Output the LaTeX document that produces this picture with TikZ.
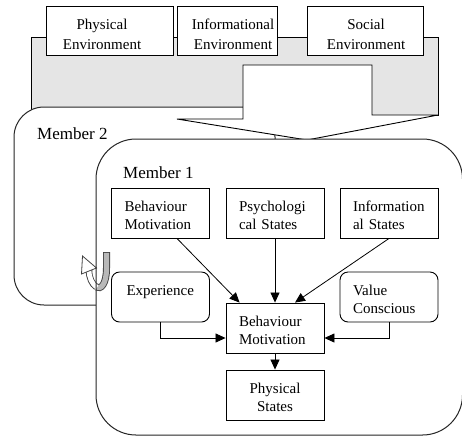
\documentclass[tikz,border=0pt]{standalone}
\usepackage{fontspec}
\setmainfont{Liberation Serif}
\usetikzlibrary{arrows.meta,calc}

\newcommand{\boxfont}{\fontsize{15}{18}\selectfont}
\newcommand{\envfont}{\fontsize{15}{20}\selectfont}
\newcommand{\memfont}{\fontsize{17}{20}\selectfont}

\begin{document}
\begin{tikzpicture}[x=1pt,y=-1pt,
  envbox/.style={draw=black, fill=white, line width=0.9pt, minimum height=49pt, inner sep=0pt},
  envtext/.style={align=center, font=\envfont, inner sep=0pt, text depth=0pt},
  innerbox/.style={draw=black, fill=white, line width=0.9pt, minimum width=98pt,
    minimum height=50pt, text width=72pt, inner xsep=13pt, inner ysep=0pt,
    align=left, font=\boxfont, text depth=13pt},
  softbox/.style={innerbox, rounded corners=8pt},
  memberline/.style={draw=black!85, line width=1pt},
  memtext/.style={font=\memfont, inner sep=0pt, anchor=base west},
  link/.style={draw=black, line width=0.8pt, -{Triangle[length=10pt,width=9pt]}}
]
\useasboundingbox (0,0) rectangle (462,437);

% grey environment band
\filldraw[fill=black!10, draw=black, line width=0.9pt] (31,37) rectangle (438,115);

% environment boxes
\node[envbox, minimum width=127pt] (penv) at (109.5,30.5) {};
\node[envbox, minimum width=100pt] (ienv) at (227,30.5) {};
\node[envbox, minimum width=116pt] (senv) at (365,30.5) {};
\node[envtext] (penvt) at (102,34) {Physical\\Environment};
\node[envtext] (ienvt) at (233,34) {Informational\\Environment};
\node[envtext] (senvt) at (366,34) {Social\\Environment};

% Member 2 frame
\path[memberline, fill=white, rounded corners=30pt] (14,107) rectangle (275,305);
\node[memtext] (m2) at (37,139) {Member 2};

% block arrow from the environment down to Member 1
\filldraw[fill=white, draw=black, line width=0.9pt]
  (243,65) -- (372,65) -- (372,115) -- (438,115) -- (307,140) -- (177,119) -- (243,119) -- cycle;

% Member 1 frame (filled first, outlined after the loop arrow)
\fill[white, rounded corners=40pt] (96,139) rectangle (462.5,435);

% loop arrow between the members
\draw[line width=7pt, black!75] (106.5,252) -- (106.5,268) .. controls (106.5,284) and (101,290) .. (96,287);
\draw[line width=5.2pt, black!28] (106.5,252.9) -- (106.5,268) .. controls (106.5,284) and (101,290) .. (96,287);
\draw[line width=6.5pt, black!75] (96.5,287.3) .. controls (92,284) and (89,278) .. (89,270);
\draw[line width=4.8pt, white] (97,287.5) .. controls (92,284) and (89,278) .. (89,269.5);
\filldraw[fill=white, draw=black!75, line width=0.8pt] (96.5,268) -- (82.5,256) -- (81.5,274) -- cycle;

\path[memberline, rounded corners=40pt] (96,139) rectangle (462.5,435);
\node[memtext] (m1) at (123,178) {Member 1};

% boxes inside Member 1
\node[innerbox] (bm1) at (160.5,213) {Behaviour\\Motivation};
\node[innerbox] (psy) at (275,213) {Psychologi\\cal States};
\node[innerbox] (inf) at (389,213) {Information\\al States};
\node[softbox] (exp) at (160.5,297) {\hspace*{2pt}Experience\\\strut};
\node[softbox] (val) at (389,297) {Value\\Conscious};
\node[innerbox] (bm2) at (275,328) {Behaviour\\Motivation};
\node[innerbox, align=center] (phy) at (275,395) {Physical\\States};

% influences
\draw[link] ($(bm1.south)+(16.5,0)$) -- ($(bm2.north west)+(14,0)$);
\draw[link] (psy.south) -- (bm2.north);
\draw[link] (inf.south) -- ($(bm2.north)+(20,0)$);
\draw[link] (exp.south) |- ($(bm2.west)+(0,10)$);
\draw[link] (val.south) |- ($(bm2.east)+(0,10)$);
\draw[link] (bm2.south) -- (phy.north);
\end{tikzpicture}
\end{document}
